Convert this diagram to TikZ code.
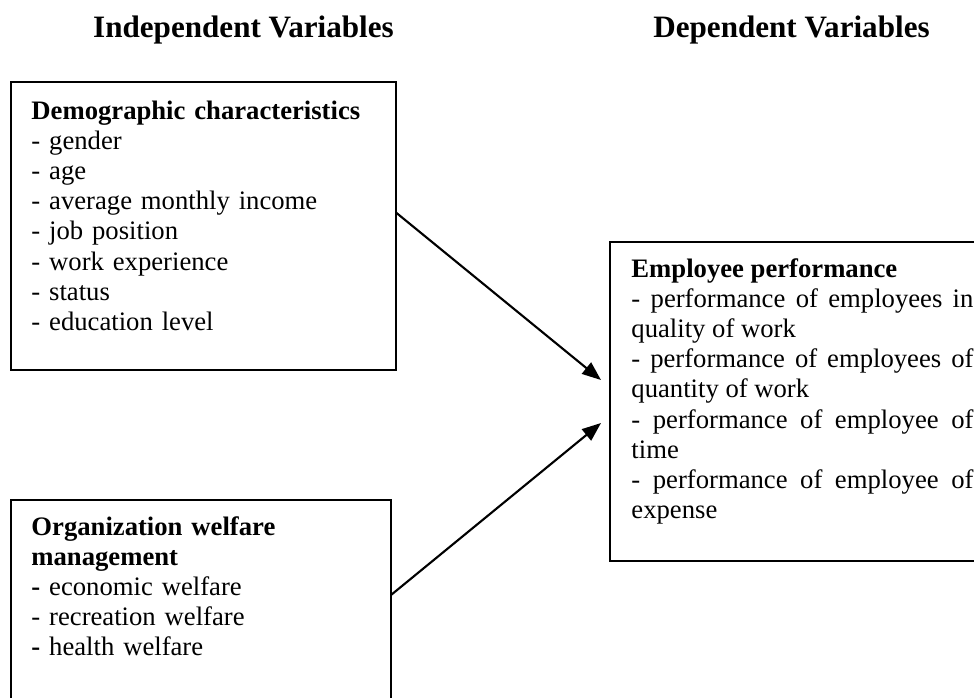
\documentclass[tikz,border=0pt]{standalone}
\usepackage{fontspec}
\setmainfont{Liberation Serif}
\usetikzlibrary{positioning,arrows.meta}

% one unit of the picture
\newcommand{\pxu}{0.45pt}

\tikzset{
  frame/.style={draw, line width=0.9pt, inner sep=0pt, outer sep=0pt, anchor=north west},
  boxtext/.style={anchor=base west, inner sep=0pt, align=left,
    font=\fontsize{12}{13.6}\selectfont},
  headtext/.style={anchor=base, inner sep=0pt,
    font=\fontsize{14}{16}\selectfont\bfseries},
  link/.style={-{Triangle[length=8.5pt,width=6.5pt]}, line width=0.95pt}
}

\begin{document}
\begin{tikzpicture}[x=\pxu, y=-\pxu]
  \useasboundingbox (0,0) rectangle (974,697);

  % Column headings
  \node[headtext] (indepHead) at (243.5,37) {Independent Variables};
  \node[headtext] (depHead) at (791.5,37) {Dependent Variables};

  % Frames
  \node[frame, minimum width=385*\pxu, minimum height=288*\pxu] (demoBox) at (11,82) {};
  \node[frame, minimum width=380*\pxu, minimum height=220*\pxu] (welfBox) at (11,500) {};
  \node[frame, minimum width=380*\pxu, minimum height=319*\pxu] (perfBox) at (610,242) {};

  % Independent variables
  \node[boxtext, text width=345*\pxu] (demoText) at (31,119) {
    \textbf{Demographic characteristics}\\
    - gender\\
    - age\\
    - average monthly income\\
    - job position\\
    - work experience\\
    - status\\
    - education level
  };
  \node[boxtext, text width=335*\pxu] (welfText) at (31,535) {
    \textbf{Organization welfare}\\
    \textbf{management}\\
    \textbf{-} economic welfare\\
    - recreation welfare\\
    \textbf{-} health welfare
  };

  % Dependent variable
  \node[boxtext, align=justify, text width=342*\pxu] (perfText) at (631,277) {
    \textbf{Employee performance}\\
    - performance of employees in\linebreak quality of work\\
    - performance of employees of\linebreak quantity of work\\
    - performance of employee of\linebreak time\\
    - performance of employee of\linebreak expense
  };

  % Links
  \draw[link] (demoBox.4) -- ([shift={(-9,138)}]perfBox.north west);
  \draw[link] ([shift={(0,95)}]welfBox.north east) -- ([shift={(-9,181)}]perfBox.north west);
\end{tikzpicture}
\end{document}
